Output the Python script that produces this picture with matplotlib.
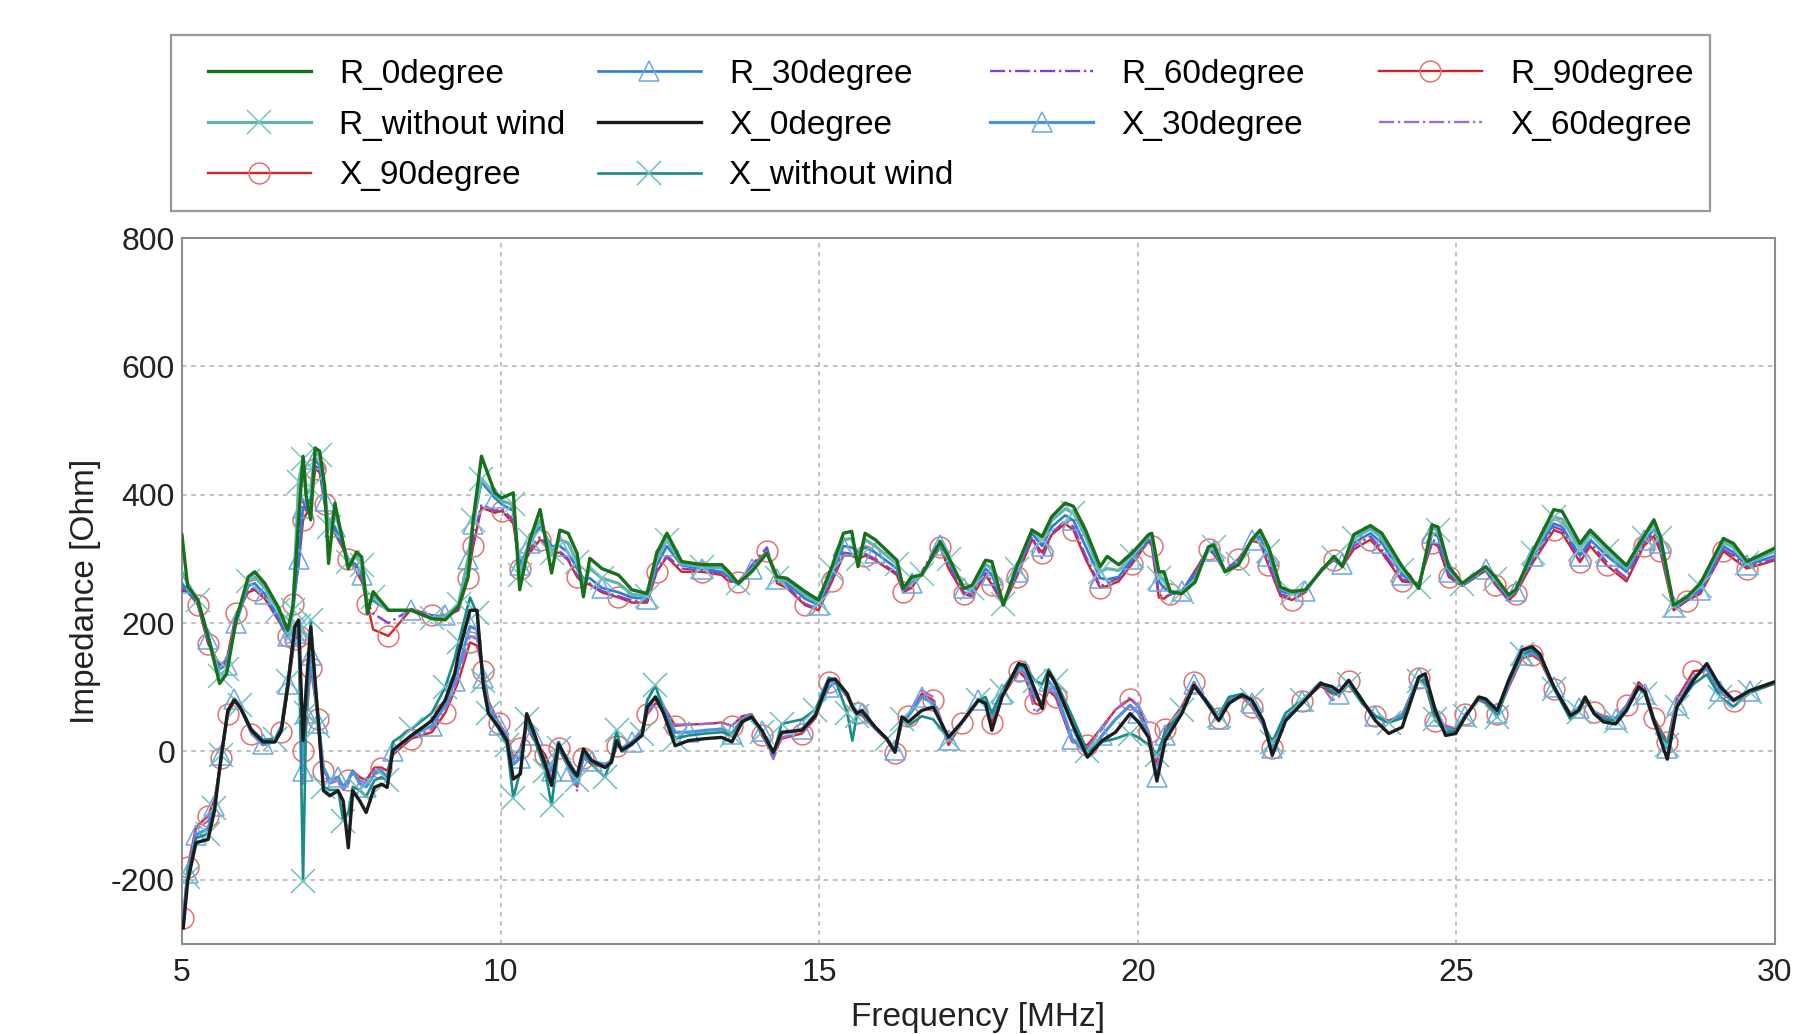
import matplotlib
matplotlib.use("Agg")
import matplotlib.pyplot as plt
from matplotlib.patches import Rectangle

plt.rcParams['font.family'] = ['Liberation Sans', 'DejaVu Sans']
plt.rcParams['axes.unicode_minus'] = False

# ---------------- data (frequency in MHz, impedance in Ohm) ----------------
F_R = [5.00, 5.09, 5.25, 5.41, 5.59, 5.70, 5.85, 6.04, 6.14, 6.30, 6.51, 6.66, 6.74, 6.83, 6.90, 6.95,
       7.02, 7.09, 7.16, 7.24, 7.30, 7.40, 7.61, 7.74, 7.82, 7.91, 8.00, 8.24, 8.60, 8.92, 9.13, 9.34,
       9.49, 9.57, 9.70, 9.91, 10.02, 10.20, 10.30, 10.46, 10.62, 10.80, 10.93, 11.06, 11.20, 11.30,
       11.40, 11.59, 11.85, 12.06, 12.30, 12.45, 12.61, 12.84, 13.16, 13.47, 13.58, 13.73, 13.94,
       14.18, 14.34, 14.49, 14.78, 14.99, 15.20, 15.38, 15.51, 15.61, 15.72, 15.88, 16.22, 16.32,
       16.45, 16.61, 16.90, 17.03, 17.27, 17.40, 17.61, 17.71, 17.89, 18.10, 18.34, 18.50, 18.65,
       18.86, 18.99, 19.18, 19.41, 19.52, 19.70, 19.91, 20.17, 20.22, 20.33, 20.41, 20.51, 20.69,
       20.90, 21.11, 21.19, 21.37, 21.58, 21.79, 21.92, 22.05, 22.24, 22.42, 22.63, 22.89, 23.08,
       23.21, 23.39, 23.65, 23.83, 24.15, 24.41, 24.62, 24.71, 24.88, 25.09, 25.46, 25.61, 25.82,
       25.93, 26.21, 26.53, 26.66, 26.94, 27.10, 27.36, 27.67, 27.94, 28.10, 28.20, 28.41, 28.62,
       28.83, 29.19, 29.35, 29.56, 30.00]

R_0deg = [337, 257, 236, 179, 106, 121, 205, 272, 280, 262, 225, 189, 225, 361, 460, 397,
          361, 473, 468, 413, 293, 387, 285, 311, 303, 215, 249, 220, 220, 207, 205, 226,
          272, 361, 460, 403, 395, 403, 252, 330, 377, 278, 345, 340, 309, 241,
          301, 285, 275, 252, 246, 309, 340, 296, 291, 291, 280, 262, 280,
          309, 272, 270, 249, 236, 288, 340, 343, 288, 340, 330, 298, 254,
          272, 275, 327, 303, 254, 259, 298, 296, 228, 288, 345, 335, 366,
          387, 382, 345, 288, 304, 291, 309, 338, 340, 280, 280, 249, 246,
          264, 319, 322, 280, 291, 330, 345, 319, 256, 249, 252, 283, 304,
          288, 338, 352, 340, 288, 254, 353, 350, 288, 262, 288, 272, 244,
          252, 314, 377, 374, 324, 345, 319, 290, 335, 361, 335, 228, 241,
          262, 332, 324, 296, 317]

R_30deg = [262, 250, 232, 175, 128, 135, 200, 258, 262, 245, 210, 180, 215, 300, 380, 380,
           395, 455, 445, 390, 360, 350, 300, 290, 275, 235, 235, 220, 220, 210, 212, 225,
           300, 355, 420, 395, 385, 375, 290, 325, 350, 320, 320, 310, 285, 270,
           270, 255, 248, 240, 238, 290, 320, 290, 285, 280, 272, 260, 285,
           310, 268, 262, 238, 228, 275, 320, 318, 310, 318, 310, 285, 255,
           262, 275, 322, 295, 255, 250, 285, 275, 232, 280, 340, 320, 350,
           368, 360, 320, 270, 268, 272, 300, 330, 328, 265, 255, 248, 250,
           275, 315, 312, 280, 295, 330, 335, 305, 250, 245, 250, 282, 300,
           292, 325, 340, 325, 275, 258, 340, 335, 280, 260, 285, 265, 240,
           250, 305, 355, 350, 305, 330, 305, 280, 330, 345, 325, 225, 238,
           252, 320, 310, 290, 305]

R_60deg = [255, 248, 230, 170, 132, 140, 210, 250, 255, 240, 205, 178, 225, 330, 390, 375,
           390, 445, 440, 390, 355, 345, 300, 285, 270, 232, 215, 200, 222, 212, 212, 222,
           280, 330, 385, 375, 378, 360, 285, 315, 335, 310, 312, 300, 275, 265,
           262, 250, 242, 235, 235, 282, 305, 285, 282, 278, 268, 262, 290,
           318, 265, 258, 230, 222, 268, 310, 308, 305, 308, 300, 278, 250,
           258, 280, 330, 290, 248, 245, 278, 265, 230, 275, 335, 300, 340,
           360, 350, 305, 258, 262, 270, 295, 330, 325, 245, 240, 245, 250,
           280, 318, 310, 282, 300, 330, 330, 295, 245, 240, 250, 285, 300,
           290, 320, 335, 315, 268, 262, 330, 325, 275, 258, 282, 262, 236,
           248, 300, 350, 345, 300, 325, 295, 270, 325, 340, 318, 222, 236,
           248, 315, 305, 288, 300]

R_90deg = [250, 250, 228, 168, 135, 142, 215, 248, 252, 238, 205, 180, 230, 290, 360, 370,
           380, 440, 435, 385, 350, 340, 300, 280, 265, 230, 190, 180, 222, 212, 210, 220,
           270, 320, 380, 372, 375, 355, 285, 310, 330, 308, 310, 298, 272, 262,
           260, 248, 240, 232, 232, 280, 303, 280, 280, 275, 265, 264, 288,
           312, 262, 255, 228, 220, 265, 305, 305, 300, 305, 298, 275, 248,
           255, 278, 318, 285, 245, 242, 275, 260, 228, 272, 330, 310, 338,
           355, 345, 300, 255, 258, 265, 292, 328, 320, 240, 238, 245, 248,
           282, 315, 308, 280, 300, 328, 325, 290, 242, 236, 248, 285, 298,
           288, 315, 330, 310, 265, 262, 325, 320, 272, 258, 282, 260, 235,
           246, 296, 345, 340, 295, 320, 290, 265, 320, 335, 312, 220, 235,
           246, 312, 300, 285, 298]

R_nowind = [280, 262, 236, 180, 118, 128, 205, 265, 272, 255, 220, 185, 220, 420, 455, 400,
            410, 465, 462, 405, 350, 375, 295, 305, 290, 225, 240, 220, 220, 208, 210, 230,
            300, 360, 425, 400, 390, 385, 275, 330, 360, 310, 330, 325, 295, 260,
            285, 270, 262, 245, 242, 300, 330, 292, 288, 286, 277, 262, 283,
            310, 270, 266, 244, 232, 282, 330, 332, 300, 330, 320, 292, 255,
            268, 276, 325, 300, 255, 255, 292, 285, 230, 285, 345, 330, 360,
            378, 372, 335, 280, 285, 282, 305, 335, 335, 270, 268, 248, 248,
            268, 318, 318, 280, 292, 330, 342, 312, 254, 247, 251, 283, 302,
            289, 332, 347, 333, 282, 256, 348, 345, 285, 261, 287, 269, 242,
            251, 310, 365, 362, 315, 340, 312, 285, 332, 355, 332, 226, 240,
            258, 326, 318, 293, 312]

F_X = [5.02, 5.09, 5.22, 5.41, 5.51, 5.62, 5.72, 5.82, 5.91, 6.09, 6.27, 6.46, 6.56, 6.66, 6.77,
       6.83, 6.90, 6.95, 7.02, 7.14, 7.22, 7.32, 7.45, 7.53, 7.61, 7.68, 7.79, 7.89, 8.02, 8.13,
       8.22, 8.31, 8.60, 8.92, 9.13, 9.28, 9.34, 9.52, 9.63, 9.73, 9.81, 9.97, 10.10, 10.20, 10.31,
       10.41, 10.51, 10.70, 10.80, 10.91, 11.09, 11.20, 11.30, 11.43, 11.64, 11.74, 11.82, 11.90,
       12.06, 12.22, 12.30, 12.43, 12.56, 12.74, 12.95, 13.21, 13.47, 13.63, 13.79, 13.94, 14.10,
       14.28, 14.41, 14.73, 14.94, 15.15, 15.25, 15.44, 15.52, 15.59, 15.67, 15.88, 16.06, 16.19,
       16.30, 16.40, 16.61, 16.79, 17.03, 17.24, 17.50, 17.61, 17.71, 17.87, 18.13, 18.23, 18.39,
       18.50, 18.60, 18.71, 18.97, 19.21, 19.44, 19.65, 19.88, 20.01, 20.17, 20.30, 20.43, 20.69,
       20.88, 21.06, 21.27, 21.43, 21.64, 21.79, 21.97, 22.11, 22.32, 22.58, 22.87, 23.05, 23.16,
       23.31, 23.52, 23.73, 23.94, 24.15, 24.41, 24.51, 24.67, 24.83, 24.99, 25.14, 25.35, 25.46,
       25.64, 25.82, 26.03, 26.19, 26.31, 26.53, 26.79, 26.92, 27.02, 27.16, 27.31, 27.50, 27.67,
       27.86, 27.96, 28.10, 28.31, 28.46, 28.72, 28.93, 29.14, 29.35, 29.61, 29.98]

X_0deg = [-275, -202, -142, -137, -92, -4, 64, 80, 69, 33, 15, 15, 33, 101, 194,
          205, 17, 101, 194, 48, -61, -69, -61, -77, -150, -61, -77, -95, -56, -51,
          -56, 2, 25, 48, 80, 121, 152, 220, 220, 101, 59, 38, 17, -43, -35,
          59, 33, -20, -53, 12, -22, -38, 4, -14, -25, -17, 17, 2,
          12, 25, 69, 85, 59, 9, 17, 20, 22, 15, 46, 54, 33,
          -1, 30, 33, 56, 111, 113, 90, 70, 59, 64, 38, 20, -1,
          54, 46, 64, 69, 22, 46, 80, 75, 33, 85, 137, 134, 95,
          67, 124, 106, 43, -9, 17, 30, 59, 46, 22, -46, 17, 59,
          103, 80, 48, 75, 88, 80, 48, -6, 48, 75, 106, 101, 93,
          111, 80, 48, 28, 38, 116, 121, 64, 25, 28, 54, 85, 82,
          64, 111, 158, 163, 152, 101, 56, 64, 85, 59, 46, 43, 64,
          101, 93, 48, -12, 69, 111, 137, 101, 80, 95, 108]

X_30deg = [-265, -190, -130, -120, -85, -5, 62, 82, 72, 30, 12, 15, 35, 105, 185,
           190, -30, 60, 150, 45, -25, -45, -40, -55, -45, -30, -50, -55, -35, -30,
           -40, 0, 25, 40, 72, 110, 130, 195, 190, 115, 70, 42, 20, -20, -10,
           45, 25, -15, -30, 15, -30, -50, -5, -15, -20, -15, 10, 5,
           15, 30, 65, 85, 65, 30, 30, 33, 35, 28, 50, 55, 32,
           -3, 28, 35, 58, 100, 108, 88, 72, 62, 60, 36, 20, 2,
           50, 55, 85, 75, 18, 45, 80, 78, 55, 90, 132, 125, 85,
           75, 110, 95, 20, -5, 25, 50, 72, 60, 25, -40, 25, 62,
           105, 78, 50, 80, 88, 75, 42, 5, 52, 78, 105, 95, 90,
           105, 78, 55, 45, 55, 115, 110, 55, 35, 32, 55, 82, 78,
           60, 105, 150, 155, 148, 100, 58, 68, 82, 62, 52, 50, 70,
           100, 90, 45, 5, 72, 115, 130, 95, 80, 95, 108]

X_60deg = [-262, -185, -122, -108, -80, -8, 60, 80, 70, 28, 10, 15, 32, 100, 180,
           185, -50, 45, 140, 45, -35, -50, -45, -60, -50, -35, -45, -50, -30, -28,
           -50, -2, 22, 35, 65, 100, 118, 180, 175, 120, 75, 45, 22, -15, -5,
           42, 22, -10, -40, 10, -35, -61, -10, -18, -25, -15, 10, 5,
           15, 35, 60, 80, 70, 42, 42, 43, 45, 40, 55, 58, 28,
           -12, 22, 30, 55, 108, 110, 88, 70, 62, 58, 35, 18, 0,
           48, 58, 95, 85, 15, 45, 82, 78, 50, 88, 130, 120, 60,
           70, 100, 88, 15, 5, 35, 65, 85, 70, 30, -25, 32, 68,
           110, 80, 52, 82, 88, 72, 40, 5, 52, 80, 105, 80, 85,
           108, 76, 55, 48, 58, 115, 108, 50, 38, 35, 58, 82, 75,
           58, 100, 148, 152, 145, 98, 60, 68, 80, 62, 55, 52, 72,
           105, 95, 50, 10, 78, 120, 128, 92, 78, 92, 106]

X_90deg = [-260, -180, -118, -100, -75, -10, 58, 78, 70, 28, 10, 15, 30, 95, 175,
           180, 0, 50, 130, 50, -30, -45, -40, -55, -45, -30, -40, -45, -25, -25,
           -30, -5, 20, 30, 60, 95, 110, 170, 165, 125, 78, 45, 25, -10, 5,
           40, 20, -5, -30, 5, -30, -55, -10, -20, -25, -12, 8, 5,
           15, 32, 58, 75, 70, 40, 42, 43, 45, 40, 55, 58, 25,
           -5, 20, 28, 52, 108, 110, 85, 68, 60, 56, 35, 18, -2,
           45, 55, 90, 80, 10, 45, 80, 75, 45, 85, 125, 115, 75,
           70, 95, 85, 15, 10, 38, 65, 82, 70, 30, -20, 35, 70,
           108, 78, 52, 80, 85, 70, 40, 5, 50, 78, 102, 90, 88,
           110, 75, 55, 48, 58, 115, 105, 48, 40, 35, 58, 80, 75,
           58, 100, 145, 150, 142, 98, 60, 68, 78, 62, 55, 52, 72,
           108, 98, 52, 15, 82, 125, 128, 92, 78, 92, 105]

X_nowind = [-270, -195, -135, -128, -88, -5, 62, 82, 72, 35, 18, 20, 40, 110, 195,
            195, -202, 60, 205, 40, -55, -60, -60, -108, -95, -55, -60, -70, -45, -40,
            -45, 15, 35, 60, 100, 145, 170, 240, 215, 110, 60, 35, 10, -72, -30,
            50, 25, -30, -84, 5, -25, -45, 0, -20, -40, -10, 33, 0,
            10, 28, 80, 103, 62, 20, 25, 28, 30, 25, 48, 52, 30,
            -5, 43, 50, 65, 115, 112, 60, 17, 55, 60, 38, 20, 0,
            50, 40, 55, 50, 20, 45, 80, 85, 60, 95, 135, 130, 110,
            105, 128, 110, 55, 0, 15, 20, 28, 22, 10, -5, 30, 65,
            100, 82, 55, 85, 90, 80, 45, 15, 60, 80, 108, 92, 90,
            105, 75, 55, 45, 52, 110, 112, 50, 30, 32, 55, 82, 78,
            53, 108, 152, 158, 148, 98, 50, 62, 82, 60, 50, 48, 66,
            98, 90, 48, 10, 70, 105, 120, 85, 70, 92, 106]

LEGEND_COLUMNS = [["R_0degree", "R_without wind", "X_90degree"],
                  ["R_30degree", "X_0degree", "X_without wind"],
                  ["R_60degree", "X_30degree"],
                  ["R_90degree", "X_60degree"]]

XTICKS = [5, 10, 15, 20, 25, 30]
YTICKS = [-200, 0, 200, 400, 600, 800]

# ---------------- figure ----------------
fig = plt.figure(figsize=(18.09, 10.34), dpi=100)
ax = fig.add_axes([0.1006, 0.0870, 0.8806, 0.6828])

GREEN = '#17711a'
BLUE1 = '#2a7fd4'
BLUE2 = '#4a93dc'
PURP1 = '#8a3fd0'
PURP2 = '#a06ad6'
RED = '#d42424'
REDM = '#e57070'
TEAL1 = '#62b3b0'
TEAL2 = '#1a8c88'
BLACK = '#1c1c1c'

ms = 15
h = {}
h['R_90degree'], = ax.plot(F_R, R_90deg, color=RED, lw=1.7, marker='o', ms=ms, mfc='none',
                           mec=REDM, mew=1.1, markevery=(0.012, 0.03), zorder=3)
h['R_60degree'], = ax.plot(F_R, R_60deg, color=PURP1, lw=1.7, ls='-.', zorder=3)
h['R_30degree'], = ax.plot(F_R, R_30deg, color=BLUE1, lw=1.9, marker='^', ms=ms, mfc='none',
                           mec='#6aa8e6', mew=1.1, markevery=(0.0, 0.03), zorder=4)
h['R_without wind'], = ax.plot(F_R, R_nowind, color=TEAL1, lw=2.3, marker='x', ms=ms + 2,
                               mec='#7cc4c1', mew=1.1, markevery=(0.022, 0.03), zorder=4)
h['R_0degree'], = ax.plot(F_R, R_0deg, color=GREEN, lw=2.4, zorder=5)

h['X_90degree'], = ax.plot(F_X, X_90deg, color=RED, lw=1.7, marker='o', ms=ms, mfc='none',
                           mec=REDM, mew=1.1, markevery=(0.006, 0.03), zorder=3)
h['X_60degree'], = ax.plot(F_X, X_60deg, color=PURP2, lw=1.7, ls='-.', zorder=3)
h['X_30degree'], = ax.plot(F_X, X_30deg, color=BLUE2, lw=2.3, marker='^', ms=ms, mfc='none',
                           mec='#6aa8e6', mew=1.1, markevery=(0.017, 0.03), zorder=4)
h['X_without wind'], = ax.plot(F_X, X_nowind, color=TEAL2, lw=1.9, marker='x', ms=ms + 2,
                               mec='#6fc0bc', mew=1.1, markevery=(0.026, 0.03), zorder=4)
h['X_0degree'], = ax.plot(F_X, X_0deg, color=BLACK, lw=2.4, zorder=5)

ax.set_xlim(5, 30)
ax.set_ylim(-300, 800)
ax.set_xticks(XTICKS)
ax.set_yticks(YTICKS)
ax.tick_params(axis='both', length=0, labelsize=23, colors='#222222')
ax.tick_params(axis='x', pad=10)
ax.tick_params(axis='y', pad=5)
ax.grid(True, color='#b0b0b0', ls=(0, (3, 3)), lw=1.1)
for s in ax.spines.values():
    s.set_color('#8c8c8c')
    s.set_linewidth(1.5)

ax.set_xlabel("Frequency [MHz]", fontsize=24, color='#222222', labelpad=10)
ax.set_ylabel("Impedance [Ohm]", fontsize=24, color='#222222', labelpad=7)

# legend: frame + four columns at fixed positions
frame = Rectangle((0.0944, 0.7958), 0.8508, 0.1707, transform=fig.transFigure,
                  facecolor='white', edgecolor='#9a9a9a', lw=1.6, zorder=0)
fig.patches.append(frame)
col_x = [0.1148, 0.3304, 0.5472, 0.7621]
for cx, names in zip(col_x, LEGEND_COLUMNS):
    lg = fig.legend([h[k] for k in names], names, loc='upper left',
                    bbox_to_anchor=(cx, 0.943), frameon=False, fontsize=24,
                    handlelength=3.1, handletextpad=0.85, labelspacing=0.59,
                    borderpad=0.0, borderaxespad=0.0)

fig.savefig("out.png", dpi=100)
